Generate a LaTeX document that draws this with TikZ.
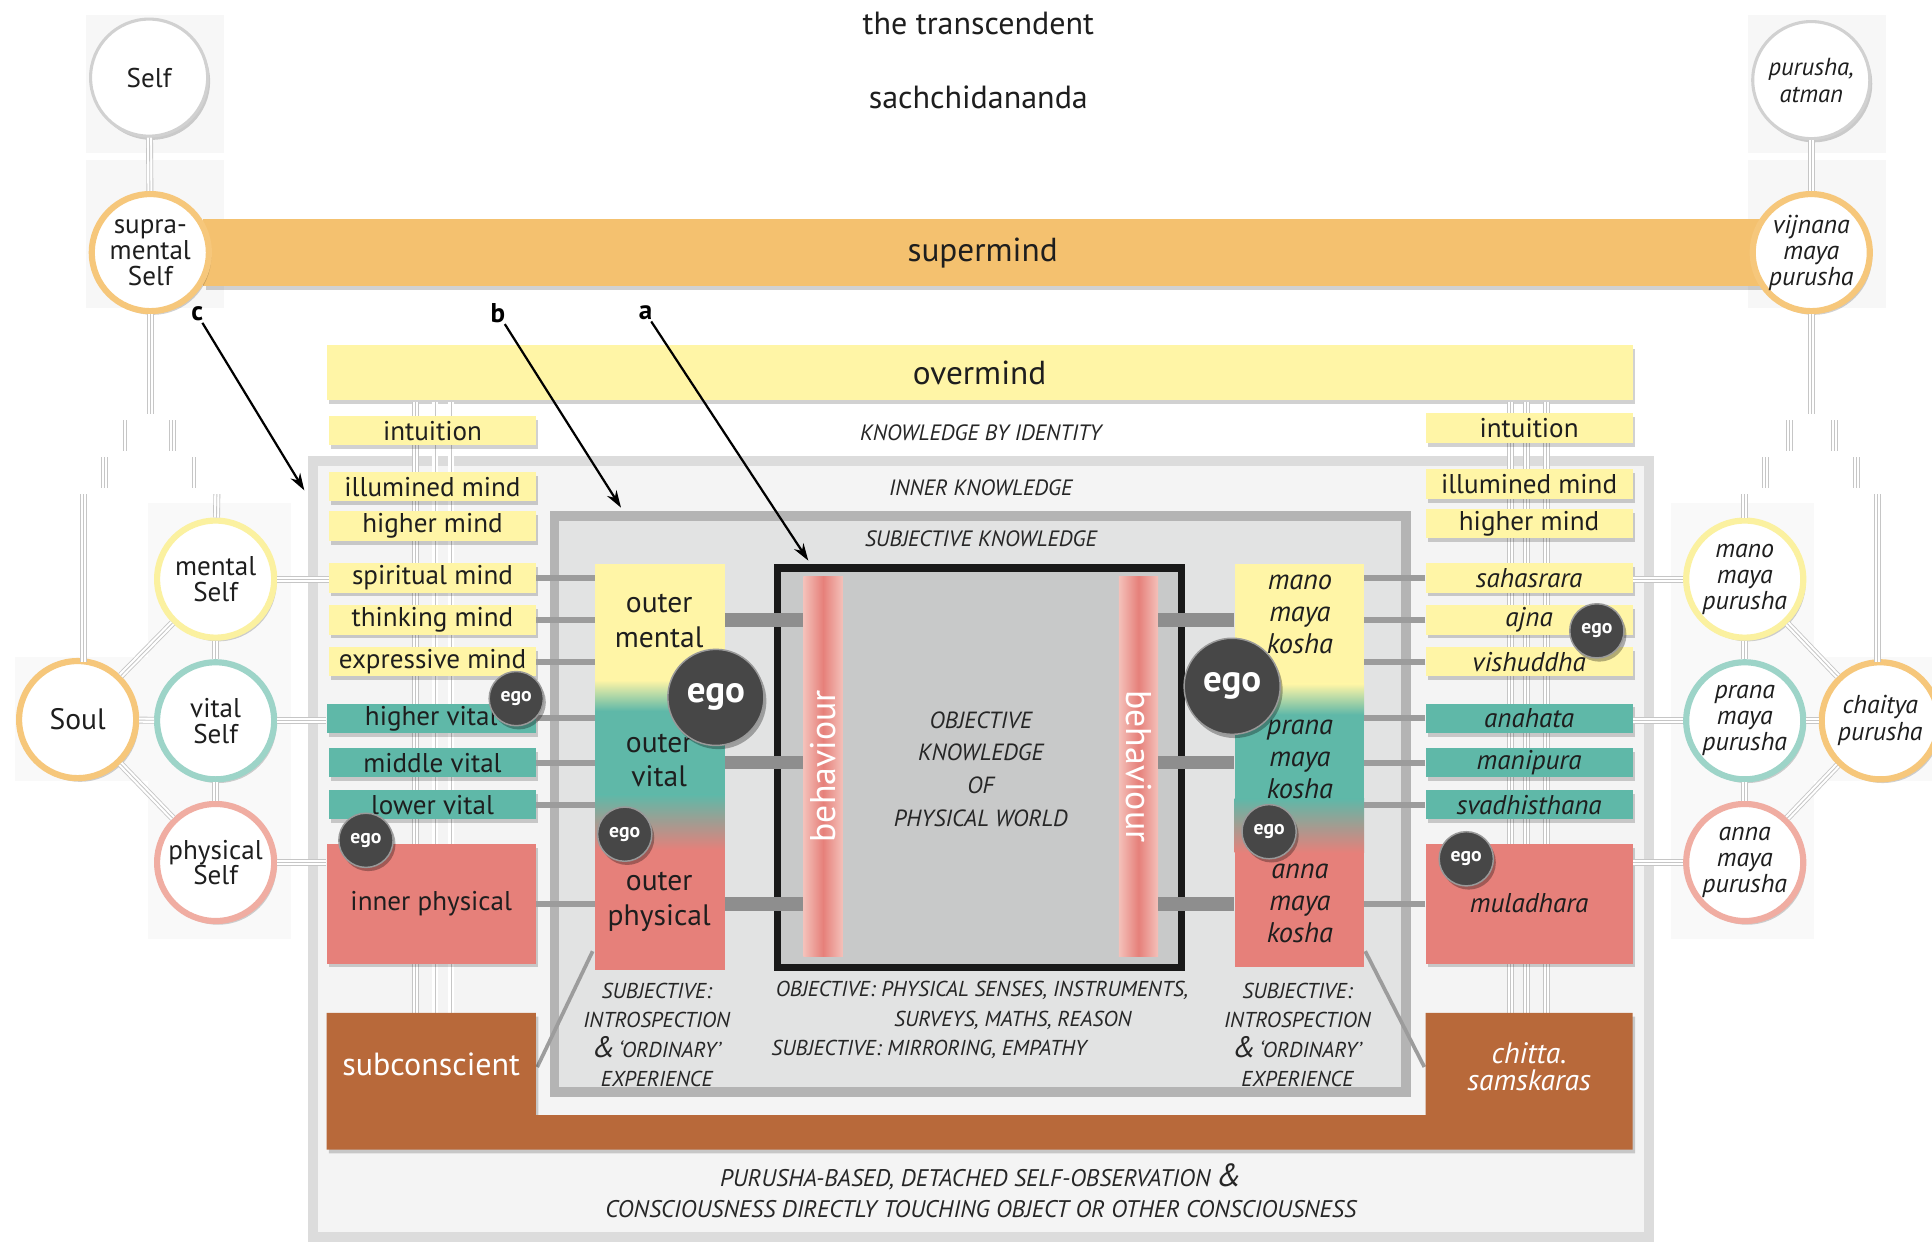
\documentclass[tikz,border=0pt]{standalone}
\usepackage{fontspec}
\setmainfont{PT Sans}
\usetikzlibrary{shadows,arrows.meta}
\definecolor{orng}{HTML}{F4C16F}
\definecolor{orring}{HTML}{F6C77B}
\definecolor{ylw}{HTML}{FFF5A6}
\definecolor{ylring}{HTML}{FBF1A0}
\definecolor{tealc}{HTML}{5FB8A8}
\definecolor{tlring}{HTML}{9DD4C8}
\definecolor{salm}{HTML}{E6807A}
\definecolor{salml}{HTML}{F4C1BA}
\definecolor{pkring}{HTML}{F0ADA2}
\definecolor{brwn}{HTML}{B8693A}
\definecolor{egoc}{HTML}{474747}
\definecolor{railc}{HTML}{C6C6C6}
\definecolor{frameA}{HTML}{DCDCDC}
\definecolor{fillA}{HTML}{F4F4F4}
\definecolor{frameB}{HTML}{B4B4B4}
\definecolor{fillB}{HTML}{E2E3E3}
\definecolor{fillC}{HTML}{C8C9C9}
\definecolor{connc}{HTML}{8E8E8E}
\definecolor{thinc}{HTML}{9C9C9C}
\definecolor{txtc}{HTML}{1E1E1E}
\newcommand\myfs[2]{\fontsize{#1}{#2}\selectfont}
\tikzset{
  shad/.style={drop shadow={shadow xshift=2pt, shadow yshift=-3pt, opacity=0.18, fill=black}},
  lbox/.style={minimum width=168pt, minimum height=24pt, inner sep=0pt, font=\myfs{22}{22}, text=txtc, shad},
  ybox/.style={lbox, fill=ylw},
  tbox/.style={lbox, fill=tealc},
  ring/.style={circle, minimum size=95pt, inner sep=0pt, fill=white, line width=5pt, align=center, text=txtc, font=\myfs{22}{21}, shad},
  ego/.style={circle, fill=egoc, draw=black!40, line width=1.2pt, text=white, inner sep=0pt, minimum size=44pt, font=\bfseries\myfs{16}{16}, drop shadow={shadow xshift=2pt, shadow yshift=-3pt, opacity=0.3, fill=black}},
  bigego/.style={ego, minimum size=78pt, font=\bfseries\myfs{30}{30}},
  rail/.style={draw=railc, line width=0.7pt, preaction={draw=railc, line width=5.6pt}, preaction={draw=white, line width=4.2pt}},
  thinconn/.style={draw=thinc, line width=5pt},
  thickconn/.style={draw=connc, line width=11pt},
  sc/.style={font=\itshape\myfs{18}{18}, text=black!85, inner sep=0pt, align=center},
  lbl/.style={font=\bfseries\myfs{22}{22}, inner sep=1pt},
  pointer/.style={line width=1.8pt, -{Stealth[length=14pt,width=9pt]}},
  plain/.style={inner sep=0pt, text=txtc, align=center}
}
\begin{document}
\begin{tikzpicture}[x=1pt,y=-1pt]
\useasboundingbox (0,0) rectangle (1568,1008);
\fill[white] (0,0) rectangle (1568,1008);
% faint background squares
\fill[black!3] (70,12) rectangle (182,124);
\fill[black!3] (70,130) rectangle (182,250);
\fill[black!3] (1419,12) rectangle (1531,124);
\fill[black!3] (1419,130) rectangle (1531,250);
\fill[black!2.5] (12,533) rectangle (120,634);
\fill[black!2.5] (120,408) rectangle (236,762);
\fill[black!2.5] (1356,408) rectangle (1472,762);
\fill[black!2.5] (1472,533) rectangle (1568,634);

% titles
\node[plain, font=\myfs{26}{26}] (transc) at (794,19) {the transcendent};
\node[plain, font=\myfs{26}{26}] (sachch) at (794,79) {sachchidananda};

% supermind / overmind bars
\node[fill=orng, minimum width=1265pt, minimum height=54pt, inner sep=0pt, shad, font=\myfs{27}{27}, text=txtc] (superm) at (797.5,205) {supermind};
\node[fill=ylw, minimum width=1060pt, minimum height=45pt, inner sep=0pt, shad, font=\myfs{27}{27}, text=txtc] (overm) at (795,302.5) {overmind};
\node[sc] (kbi) at (796,351) {KNOWLEDGE BY IDENTITY};

% outer frame
\draw[frameA, line width=8pt, fill=fillA] (254,374) rectangle (1338,1004);
\node[sc] (innk) at (796,396) {INNER KNOWLEDGE};

% rails in columns
\foreach \x in {337,353,366,1226,1239,1255} \draw[rail] (\x,326) -- (\x,822);

% middle frame
\draw[frameB, line width=8pt, fill=fillB, shad] (450,419) rectangle (1141,886);
\node[sc] (subjk) at (796,437) {SUBJECTIVE KNOWLEDGE};

% inner black frame
\node[draw=black!90, line width=6pt, fill=fillC, minimum width=328pt, minimum height=324pt, inner sep=0pt, shad] (objbox) at (795,623) {};
\node[sc, font=\itshape\myfs{19}{26.5}] (objtxt) at (796,624) {OBJECTIVE\\KNOWLEDGE\\OF\\PHYSICAL WORLD};

% behaviour bars
\node[minimum width=32pt, minimum height=308pt, inner sep=0pt, left color=salml, right color=salml, middle color=salm] (behL) at (668,622) {};
\node[minimum width=32pt, minimum height=308pt, inner sep=0pt, left color=salml, right color=salml, middle color=salm] (behR) at (924,622) {};
\node[rotate=90, text=white, font=\myfs{29}{29}, inner sep=0pt] (behLt) at (behL) {behaviour};
\node[rotate=-90, text=white, font=\myfs{29}{29}, inner sep=0pt] (behRt) at (behR) {behaviour};

% diagonal thin lines
\coordinate (dl1) at (481,772); \coordinate (dl2) at (436,866);
\coordinate (dr1) at (1108,772); \coordinate (dr2) at (1156,866);
\draw[draw=thinc, line width=3pt] (dl1) -- (dl2);
\draw[draw=thinc, line width=3pt] (dr1) -- (dr2);

% brown U shape
\fill[brwn, shad] (265,822) -- (435,822) -- (435,905) -- (1157,905) -- (1157,822) -- (1325,822) -- (1325,933) -- (265,933) -- cycle;
\node[plain, text=white, font=\myfs{26}{26}] (subc) at (350,864) {subconscient};
\node[plain, text=white, font=\itshape\myfs{24}{22}] (chitta) at (1241,866) {chitta.\\samskaras};

% kosha columns (gradients)
\fill[ylw] (483,458) rectangle (588,552);
\shade[top color=ylw, bottom color=tealc] (483,552) rectangle (588,577);
\fill[tealc] (483,577) rectangle (588,645);
\shade[top color=tealc, bottom color=salm] (483,645) rectangle (588,690);
\fill[salm] (483,690) rectangle (588,787);
\fill[ylw] (1002,458) rectangle (1107,555);
\shade[top color=ylw, bottom color=tealc] (1002,555) rectangle (1107,580);
\fill[tealc] (1002,580) rectangle (1107,648);
\shade[top color=tealc, bottom color=salm] (1002,648) rectangle (1107,692);
\fill[salm] (1002,692) rectangle (1107,785);
\node[minimum width=105pt, minimum height=329pt, inner sep=0pt] (kosL) at (535.5,622.5) {};
\node[minimum width=105pt, minimum height=327pt, inner sep=0pt] (kosR) at (1054.5,621.5) {};

% left column boxes
\node[ybox] (intuL) at (351,349.5) {intuition};
\node[ybox] (illL) at (351,395) {illumined mind};
\node[ybox] (highL) at (351,427) {higher mind};
\node[ybox] (spirL) at (351,469) {spiritual mind};
\node[ybox] (thinkL) at (351,503) {thinking mind};
\node[ybox] (exprL) at (351,537) {expressive mind};
\node[tbox, minimum width=170pt] (hvitL) at (350,583) {higher vital};
\node[tbox] (mvitL) at (351,619) {middle vital};
\node[tbox] (lvitL) at (351,653) {lower vital};
\node[lbox, fill=salm, minimum width=170pt, minimum height=97pt] (iphysL) at (350,733.5) {inner physical};

% right column boxes
\node[ybox] (intuR) at (1241,347.5) {intuition};
\node[ybox] (illR) at (1241,393) {illumined mind};
\node[ybox] (highR) at (1241,425) {higher mind};
\node[ybox, font=\itshape\myfs{22}{22}] (sahas) at (1241,469) {sahasrara};
\node[ybox, font=\itshape\myfs{22}{22}] (ajna) at (1241,503) {ajna};
\node[ybox, font=\itshape\myfs{22}{22}] (vish) at (1241,537) {vishuddha};
\node[tbox, font=\itshape\myfs{22}{22}] (anah) at (1241,583) {anahata};
\node[tbox, font=\itshape\myfs{22}{22}] (mani) at (1241,619) {manipura};
\node[tbox, font=\itshape\myfs{22}{22}] (svad) at (1241,653) {svadhisthana};
\node[lbox, fill=salm, minimum height=97pt, font=\itshape\myfs{22}{22}] (mula) at (1241,733.5) {\raisebox{2pt}{muladhara}};

% thin connectors
\foreach \b in {spirL,thinkL,exprL,hvitL,mvitL,lvitL,iphysL} \draw[thinconn] (\b.east) -- (\b.east -| kosL.west);
\foreach \b in {sahas,ajna,vish,anah,mani,svad,mula} \draw[thinconn] (\b.west) -- (\b.west -| kosR.east);
% thick connectors
\foreach \b in {thinkL,mvitL,iphysL} \draw[thickconn] (kosL.east |- \b) -- (behL.west |- \b);
\foreach \b in {ajna,mani,mula} \draw[thickconn] (behR.east |- \b) -- (kosR.west |- \b);

% kosha texts
\node[plain, font=\myfs{24}{28}] (omt) at (535,504) {outer\\mental};
\node[plain, font=\myfs{24}{28}] (ovt) at (535,617) {outer\\vital};
\node[plain, font=\myfs{24}{28}] (opt) at (535,732) {outer\\physical};
\node[plain, font=\itshape\myfs{23}{26}] (mmk) at (1055,499) {mano\\maya\\kosha};
\node[plain, font=\itshape\myfs{23}{26}] (pmk) at (1055,616) {prana\\maya\\kosha};
\node[plain, font=\itshape\myfs{23}{26}] (amk) at (1055,733) {anna\\maya\\kosha};

% egos
\node[ego] (ego1) at (419,567) {ego};
\node[ego] (ego2) at (297,682) {ego};
\node[ego] (ego3) at (507,677) {ego};
\node[bigego] (ego4) at (581,566) {ego};
\node[bigego] (ego5) at (1000,557) {ego};
\node[ego] (ego6) at (1030,675) {ego};
\node[ego] (ego7) at (1296,512) {ego};
\node[ego] (ego8) at (1190,697) {ego};

% bottom texts
\node[sc, font=\itshape\myfs{17.5}{24}] (bl) at (533,840) {SUBJECTIVE:\\INTROSPECTION\\{\myfs{24}{24}\&}\,‘ORDINARY’\\EXPERIENCE};
\node[sc, font=\itshape\myfs{17.5}{24}] (br) at (1053,840) {SUBJECTIVE:\\INTROSPECTION\\{\myfs{24}{24}\&}\,‘ORDINARY’\\EXPERIENCE};
\node[sc, font=\itshape\myfs{17.5}{17.5}] (bm1) at (797,804) {OBJECTIVE: PHYSICAL SENSES, INSTRUMENTS,};
\node[sc, font=\itshape\myfs{17.5}{17.5}] (bm2) at (822,828) {SURVEYS, MATHS, REASON};
\node[sc, font=\itshape\myfs{17.5}{17.5}] (bm3) at (754,852) {SUBJECTIVE: MIRRORING, EMPATHY};
\node[sc, font=\itshape\myfs{19.5}{19.5}] (bb1) at (796,955) {PURUSHA-BASED, DETACHED SELF-OBSERVATION {\myfs{26}{26}\&}};
\node[sc, font=\itshape\myfs{19.5}{19.5}] (bb2) at (796,981) {CONSCIOUSNESS DIRECTLY TOUCHING OBJECT OR OTHER CONSCIOUSNESS};

% top circles
\node[ring, draw=black!18, line width=2.5pt, font=\myfs{22}{22}] (self) at (121,63) {Self};
\node[ring, draw=black!18, line width=2.5pt, font=\itshape\myfs{20}{22}] (atman) at (1470,65) {purusha,\\atman};
\node[ring, draw=orring] (supra) at (122,205) {supra-\\mental\\Self};
\node[ring, draw=orring, font=\itshape\myfs{21}{21}] (vij) at (1470,205) {vijnana\\maya\\purusha};

% side circles
\node[ring, draw=orring, font=\myfs{24}{24}] (soul) at (63,584) {Soul};
\node[ring, draw=ylring] (ment) at (175,470) {mental\\Self};
\node[ring, draw=tlring] (vit) at (175,585) {vital\\Self};
\node[ring, draw=pkring] (phys) at (175,700) {physical\\Self};
\node[ring, draw=ylring, font=\itshape\myfs{21}{21}] (mano) at (1416,470) {mano\\maya\\purusha};
\node[ring, draw=tlring, font=\itshape\myfs{21}{21}] (prana) at (1416,585) {prana\\maya\\purusha};
\node[ring, draw=pkring, font=\itshape\myfs{21}{21}] (anna) at (1416,700) {anna\\maya\\purusha};
\node[ring, draw=orring, font=\itshape\myfs{21}{22}] (chaitya) at (1526,585) {chaitya\\purusha};

% rails between circles
\coordinate (lb0) at (122,336);
\coordinate (rb0) at (1470,336);
\draw[rail] (self) -- (supra);
\draw[rail] (atman) -- (vij);
\draw[rail] (supra) -- (lb0);
\draw[rail] (vij) -- (rb0);
\draw[rail] (103,341) -- (103,366);
\draw[rail] (140,341) -- (140,366);
\draw[rail] (85,371) -- (85,396);
\draw[rail] (159,371) -- (159,396);
\draw[rail] (1452,341) -- (1452,366);
\draw[rail] (1489,341) -- (1489,366);
\draw[rail] (1433,371) -- (1433,396);
\draw[rail] (1507,371) -- (1507,396);
\coordinate (ls1) at (68,401); \coordinate (ls2) at (68,537);
\coordinate (lm1) at (176,401);
\coordinate (rs1) at (1524,401); \coordinate (rs2) at (1524,537);
\coordinate (rm1) at (1416,401);
\draw[rail] (ls1) -- (ls2);
\draw[rail] (lm1) -- (ment);
\draw[rail] (rs1) -- (rs2);
\draw[rail] (rm1) -- (mano);
\draw[rail] (soul) -- (ment);
\draw[rail] (soul) -- (vit);
\draw[rail] (soul) -- (phys);
\draw[rail] (ment) -- (vit);
\draw[rail] (vit) -- (phys);
\draw[rail] (chaitya) -- (mano);
\draw[rail] (chaitya) -- (prana);
\draw[rail] (chaitya) -- (anna);
\draw[rail] (mano) -- (prana);
\draw[rail] (prana) -- (anna);
\draw[rail] (ment.east) -- (ment.east -| spirL.west);
\draw[rail] (vit.east) -- (vit.east -| hvitL.west);
\draw[rail] (phys.east) -- (phys.east -| iphysL.west);
\draw[rail] (mano.west) -- (mano.west -| sahas.east);
\draw[rail] (prana.west) -- (prana.west -| anah.east);
\draw[rail] (anna.west) -- (anna.west -| mula.east);

% labels and pointers
\node[lbl] (lc) at (160,255) {c};
\node[lbl] (lb) at (404,254) {b};
\node[lbl] (la) at (524,254) {a};
\coordinate (ce) at (247,398);
\coordinate (be) at (504,412);
\coordinate (ae) at (656,455);
\draw[pointer] (lc) -- (ce);
\draw[pointer] (lb) -- (be);
\draw[pointer] (la) -- (ae);
\end{tikzpicture}
\end{document}
